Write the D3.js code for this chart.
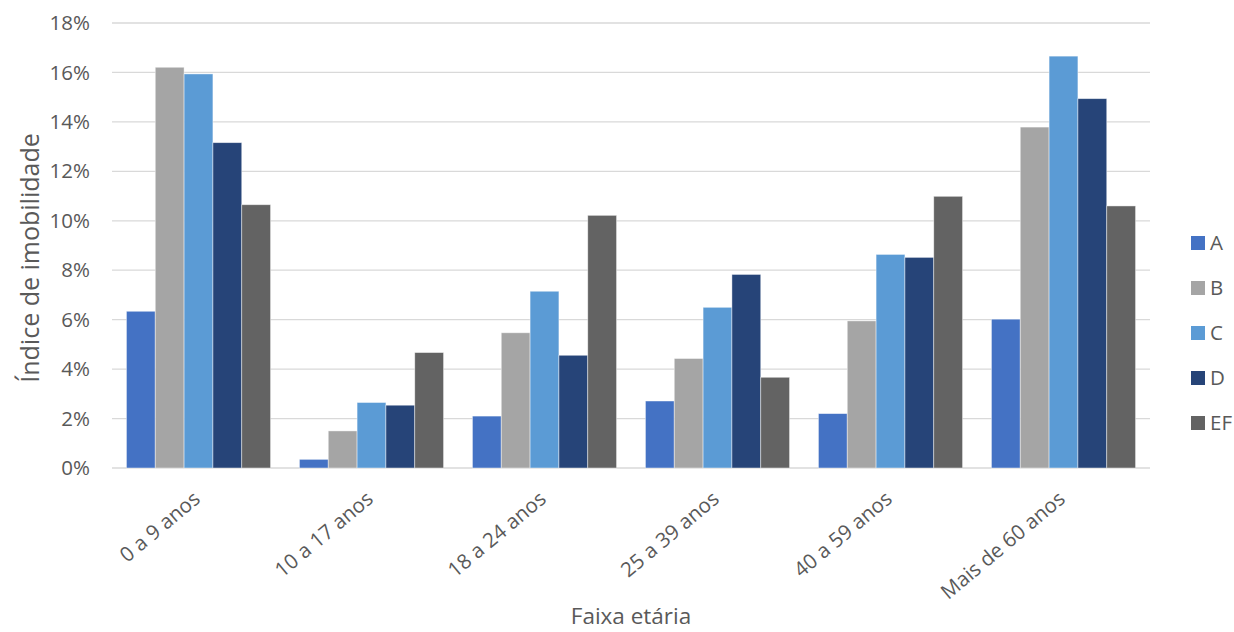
<!DOCTYPE html>
<html>
<head>
<meta charset="utf-8">
<script src="https://cdn.jsdelivr.net/npm/d3@7"></script>
<style>
  html, body { margin: 0; padding: 0; background: #fff; }
  svg { display: block; }
  text { font-family: "Open Sans", sans-serif; fill: #595959; }
</style>
</head>
<body>
<svg id="chart" width="1234" height="632"></svg>
<script>
// Age groups and series
const categories = ["0 a 9 anos", "10 a 17 anos", "18 a 24 anos", "25 a 39 anos", "40 a 59 anos", "Mais de 60 anos"];
const seriesNames = ["A", "B", "C", "D", "EF"];
const seriesColors = ["#4472C4", "#A5A5A5", "#5B9BD5", "#264478", "#636363"];

// Immobility index (%) per series, one value per age group
const valuesA  = [6.34, 0.35, 2.10, 2.71, 2.20, 6.02];
const valuesB  = [16.21, 1.50, 5.47, 4.43, 5.95, 13.79];
const valuesC  = [15.94, 2.65, 7.15, 6.50, 8.64, 16.66];
const valuesD  = [13.16, 2.54, 4.56, 7.83, 8.52, 14.94];
const valuesEF = [10.65, 4.67, 10.22, 3.67, 10.99, 10.60];

const yTicks = [0, 2, 4, 6, 8, 10, 12, 14, 16, 18];

const seriesValues = [valuesA, valuesB, valuesC, valuesD, valuesEF];

const FONT = "'Open Sans', sans-serif";
const svg = d3.select("#chart");
const margin = { left: 112, right: 84, top: 23, bottom: 164 };
const width = 1234, height = 632;
const plotW = width - margin.left - margin.right;
const plotH = height - margin.top - margin.bottom;

const x0 = d3.scaleBand()
  .domain(categories)
  .range([margin.left, margin.left + plotW])
  .paddingInner(1 / 6)
  .paddingOuter(1 / 12);

const x1 = d3.scaleBand()
  .domain(seriesNames)
  .range([0, x0.bandwidth()]);

const y = d3.scaleLinear()
  .domain([0, 18])
  .range([margin.top + plotH, margin.top]);

// Gridlines
svg.append("g")
  .selectAll("line")
  .data(yTicks)
  .join("line")
  .attr("x1", margin.left)
  .attr("x2", margin.left + plotW)
  .attr("y1", d => y(d))
  .attr("y2", d => y(d))
  .attr("stroke", "#D9D9D9")
  .attr("stroke-width", 1.3);

// Y axis labels
const yAxis = d3.axisLeft(y)
  .tickValues(yTicks)
  .tickFormat(d => d + "%")
  .tickSize(0)
  .tickPadding(22);
const gy = svg.append("g")
  .attr("transform", `translate(${margin.left},0)`)
  .call(yAxis);
gy.select(".domain").remove();
gy.selectAll("text")
  .attr("font-size", 20.5)
  .attr("fill", "#595959")
  .style("font-family", FONT);

// Bars
const groups = svg.append("g")
  .selectAll("g")
  .data(categories)
  .join("g")
  .attr("transform", d => `translate(${x0(d)},0)`);

groups.selectAll("rect")
  .data((cat, i) => seriesNames.map((s, k) => ({ s, k, v: seriesValues[k][i] })))
  .join("rect")
  .attr("x", d => x1(d.s))
  .attr("width", x1.bandwidth())
  .attr("y", d => y(d.v))
  .attr("height", d => y(0) - y(d.v))
  .attr("fill", d => seriesColors[d.k])
  .attr("stroke", "#ffffff")
  .attr("stroke-opacity", 0.55)
  .attr("stroke-width", 0.8);

// X axis labels, rotated
const xAxis = d3.axisBottom(x0).tickSize(0).tickPadding(0);
const gx = svg.append("g")
  .attr("transform", `translate(0,${y(0)})`)
  .call(xAxis);
gx.select(".domain").remove();
gx.selectAll(".tick text")
  .attr("font-size", 20.5)
  .attr("fill", "#595959")
  .style("font-family", FONT)
  .attr("text-anchor", "end")
  .attr("dy", 0)
  .attr("y", 0)
  .attr("transform", "translate(3,33) rotate(-40)");

// Axis titles
svg.append("text")
  .attr("transform", `translate(39,258) rotate(-90)`)
  .attr("text-anchor", "middle")
  .attr("font-size", 25)
  .text("Índice de imobilidade");

svg.append("text")
  .attr("x", 631)
  .attr("y", 624)
  .attr("text-anchor", "middle")
  .attr("font-size", 22.5)
  .text("Faixa etária");

// Legend
const legend = svg.append("g")
  .attr("transform", "translate(1191,243)");
const items = legend.selectAll("g")
  .data(seriesNames)
  .join("g")
  .attr("transform", (d, i) => `translate(0,${i * 45})`);
items.append("rect")
  .attr("x", 0)
  .attr("y", -7)
  .attr("width", 14)
  .attr("height", 14)
  .attr("fill", (d, i) => seriesColors[i]);
items.append("text")
  .attr("x", 19)
  .attr("y", 0)
  .attr("dy", "0.35em")
  .attr("font-size", 20.5)
  .text(d => d);
</script>
</body>
</html>
